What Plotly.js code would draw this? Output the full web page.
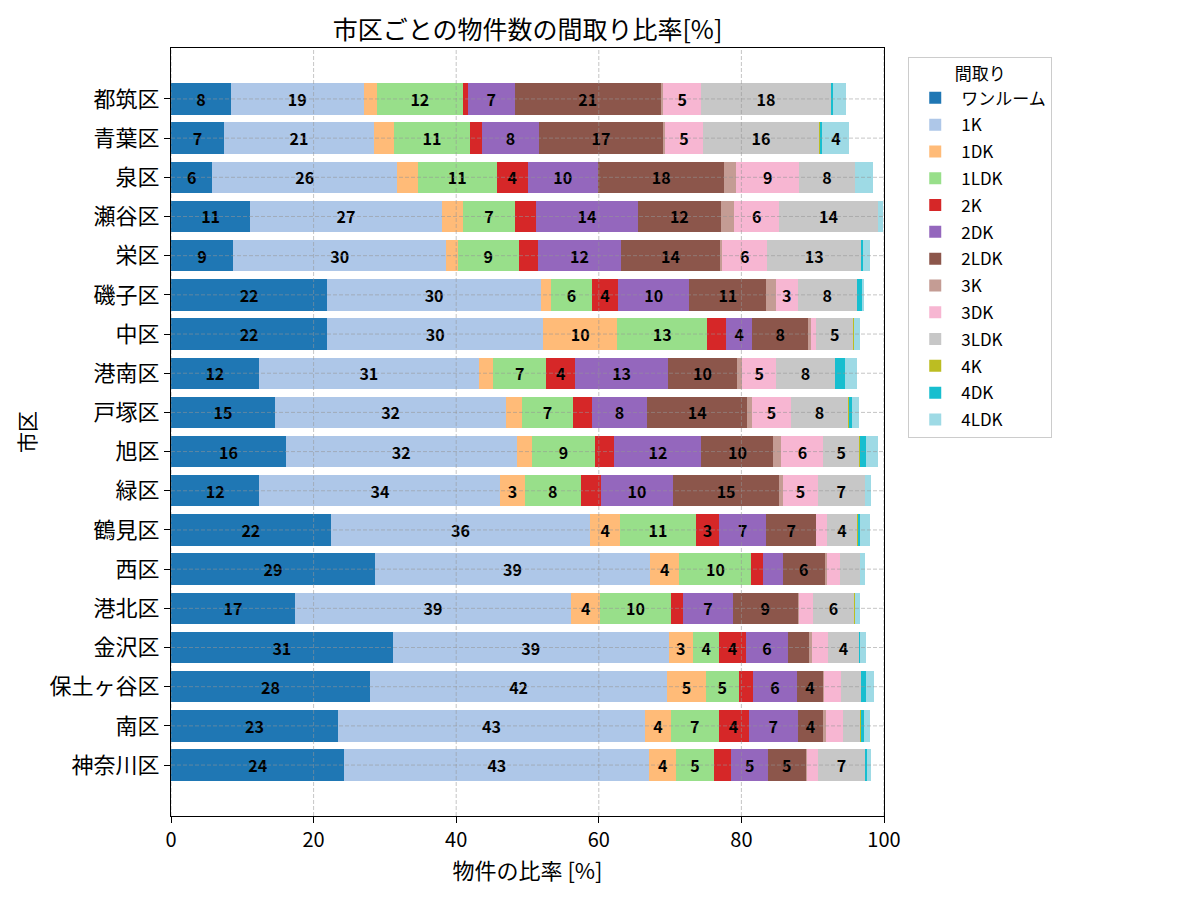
<!DOCTYPE html>
<html>
<head>
<meta charset="utf-8">
<script src="https://cdn.plot.ly/plotly-3.0.1.min.js"></script>
<style>
  body { margin: 0; background: #fff; }
  #chart { width: 1200px; height: 900px; }
</style>
</head>
<body>
<div id="chart"></div>
<script>
// wards, top to bottom
const wards = ["都筑区", "青葉区", "泉区", "瀬谷区", "栄区", "磯子区", "中区", "港南区", "戸塚区",
               "旭区", "緑区", "鶴見区", "西区", "港北区", "金沢区", "保土ヶ谷区", "南区", "神奈川区"];

// share of listings [%] per floor plan, same order as wards
const oneRoom = [8.4, 7.4, 5.8, 11.1, 8.7, 21.9, 21.9, 12.3, 14.6, 16.1, 12.4, 22.4, 28.6, 17.4, 31.1, 27.9, 23.4, 24.3];
const k1   = [18.6, 21.1, 25.9, 26.9, 29.9, 30.0, 30.3, 30.9, 32.4, 32.4, 33.8, 36.4, 38.6, 38.7, 38.7, 41.7, 43.1, 42.8];
const dk1  = [1.9, 2.8, 2.9, 2.9, 1.6, 1.4, 10.4, 2.0, 2.2, 2.2, 3.4, 4.2, 4.1, 4.1, 3.4, 5.4, 3.6, 3.7];
const ldk1 = [12.0, 10.6, 11.1, 7.4, 8.6, 5.7, 12.6, 7.4, 7.2, 8.7, 7.9, 10.6, 10.1, 9.9, 3.7, 4.6, 6.7, 5.4];
const k2   = [0.7, 1.7, 4.3, 2.9, 2.7, 3.7, 2.7, 4.1, 2.6, 2.8, 2.8, 3.3, 1.6, 1.7, 3.7, 2.0, 4.2, 2.4];
const dk2  = [6.6, 8.0, 9.9, 14.3, 11.6, 10.0, 3.6, 13.0, 7.8, 12.2, 10.1, 6.6, 2.8, 7.0, 6.0, 6.2, 6.9, 5.1];
const ldk2 = [20.5, 17.4, 17.7, 11.6, 13.9, 10.8, 7.9, 9.7, 14.0, 10.1, 14.9, 7.0, 5.9, 9.1, 2.9, 3.6, 3.6, 5.3];
const k3   = [0.3, 0.3, 1.7, 1.9, 0.3, 1.3, 0.3, 0.7, 0.7, 1.1, 0.6, 0, 0.3, 0.2, 0.4, 0.2, 0.3, 0.2];
const dk3  = [5.4, 5.3, 8.8, 6.3, 6.3, 3.1, 0.8, 4.8, 5.4, 5.9, 4.8, 1.5, 1.8, 1.9, 2.2, 2.3, 2.4, 1.5];
const ldk3 = [18.1, 16.3, 7.8, 13.8, 13.2, 8.3, 5.2, 8.2, 8.1, 5.0, 6.6, 4.2, 2.9, 5.8, 4.4, 2.9, 2.4, 6.7];
const k4   = [0, 0.15, 0, 0, 0, 0, 0.15, 0, 0.15, 0.2, 0, 0.2, 0, 0.2, 0, 0, 0.15, 0];
const dk4  = [0.4, 0.3, 0, 0, 0.3, 0.7, 0, 1.4, 0.3, 0.8, 0, 0.3, 0, 0, 0.2, 0.7, 0.5, 0.2];
const ldk4 = [1.7, 3.8, 2.6, 0.8, 1.0, 0.3, 0.8, 1.7, 1.1, 1.6, 0.85, 1.4, 0.7, 0.6, 0.8, 1.1, 0.85, 0.6];

const planNames = ["ワンルーム", "1K", "1DK", "1LDK", "2K", "2DK", "2LDK", "3K", "3DK", "3LDK", "4K", "4DK", "4LDK"];
const planValues = [oneRoom, k1, dk1, ldk1, k2, dk2, ldk2, k3, dk3, ldk3, k4, dk4, ldk4];
const xTicks = [0, 20, 40, 60, 80, 100];

// tab20 picks
const colors = ["#1f77b4", "#aec7e8", "#ffbb78", "#98df8a", "#d62728", "#9467bd", "#8c564b",
                "#c49c94", "#f7b6d2", "#c7c7c7", "#bcbd22", "#17becf", "#9edae5"];

const FONT = "Noto Sans CJK JP, Noto Sans, sans-serif";
const GRID = "rgba(150,150,150,0.55)";

const data = planNames.map((name, i) => ({
    type: "bar",
    orientation: "h",
    name: name,
    legendgroup: name,
    y: wards,
    x: planValues[i],
    marker: { color: colors[i], line: { width: 0 } },
    text: planValues[i].map(v => v > 3 ? Math.round(v).toString() : ""),
    textposition: "inside",
    insidetextanchor: "middle",
    textangle: 0,
    textfont: { family: FONT, size: 16, color: "#000", weight: "bold" },
    hoverinfo: "skip"
}));

// dashed grid drawn over the bars, like the original
const shapes = [];
xTicks.forEach(t => shapes.push({
    type: "line", layer: "above", xref: "x", yref: "paper",
    x0: t, x1: t, y0: 0, y1: 1,
    line: { color: GRID, width: 1, dash: "4px,2px" }
}));
wards.forEach(w => shapes.push({
    type: "line", layer: "above", xref: "paper", yref: "y",
    x0: 0, x1: 1, y0: w, y1: w,
    line: { color: GRID, width: 1, dash: "4px,2px" }
}));

const layout = {
    width: 1200,
    height: 900,
    margin: { l: 171, r: 316, t: 48, b: 84 },
    paper_bgcolor: "#fff",
    plot_bgcolor: "#fff",
    font: { family: FONT, color: "#000" },
    barmode: "stack",
    bargap: 0.2,
    title: {
        text: "市区ごとの物件数の間取り比率[%]",
        font: { family: FONT, size: 25, color: "#000" },
        x: 0.5 * (171 + 884) / 1200, xanchor: "center",
        y: 0.966, yanchor: "middle"
    },
    xaxis: {
        range: [0, 100],
        tickvals: xTicks,
        ticks: "outside", ticklen: 6, tickcolor: "#000",
        showgrid: false, zeroline: false,
        showline: true, mirror: true, linecolor: "#000", linewidth: 1,
        tickfont: { family: FONT, size: 20, color: "#000" },
        title: { text: "物件の比率 [%]", font: { family: FONT, size: 22, color: "#000" }, standoff: 6 }
    },
    yaxis: {
        type: "category",
        range: [wards.length - 1 + 1.3, -1.3],
        ticks: "outside", ticklen: 6, tickcolor: "#000",
        showgrid: false, zeroline: false,
        showline: true, mirror: true, linecolor: "#000", linewidth: 1,
        tickfont: { family: FONT, size: 22, color: "#000" },
        title: { text: "市区", font: { family: FONT, size: 21, color: "#000" }, standoff: 8 }
    },
    legend: {
        x: 1.034, xanchor: "left",
        y: 0.988, yanchor: "top",
        bgcolor: "#fff",
        bordercolor: "#cccccc", borderwidth: 1,
        font: { family: FONT, size: 17, color: "#000" },
        title: { text: "間取り", side: "top center", font: { family: FONT, size: 17, color: "#000" } },
        traceorder: "grouped",
        tracegroupgap: 1.7,
        itemwidth: 42
    },
    uniformtext: { mode: "show", minsize: 16 },
    shapes: shapes,
    showlegend: true
};

Plotly.newPlot("chart", data, layout, { staticPlot: true });
</script>
</body>
</html>
